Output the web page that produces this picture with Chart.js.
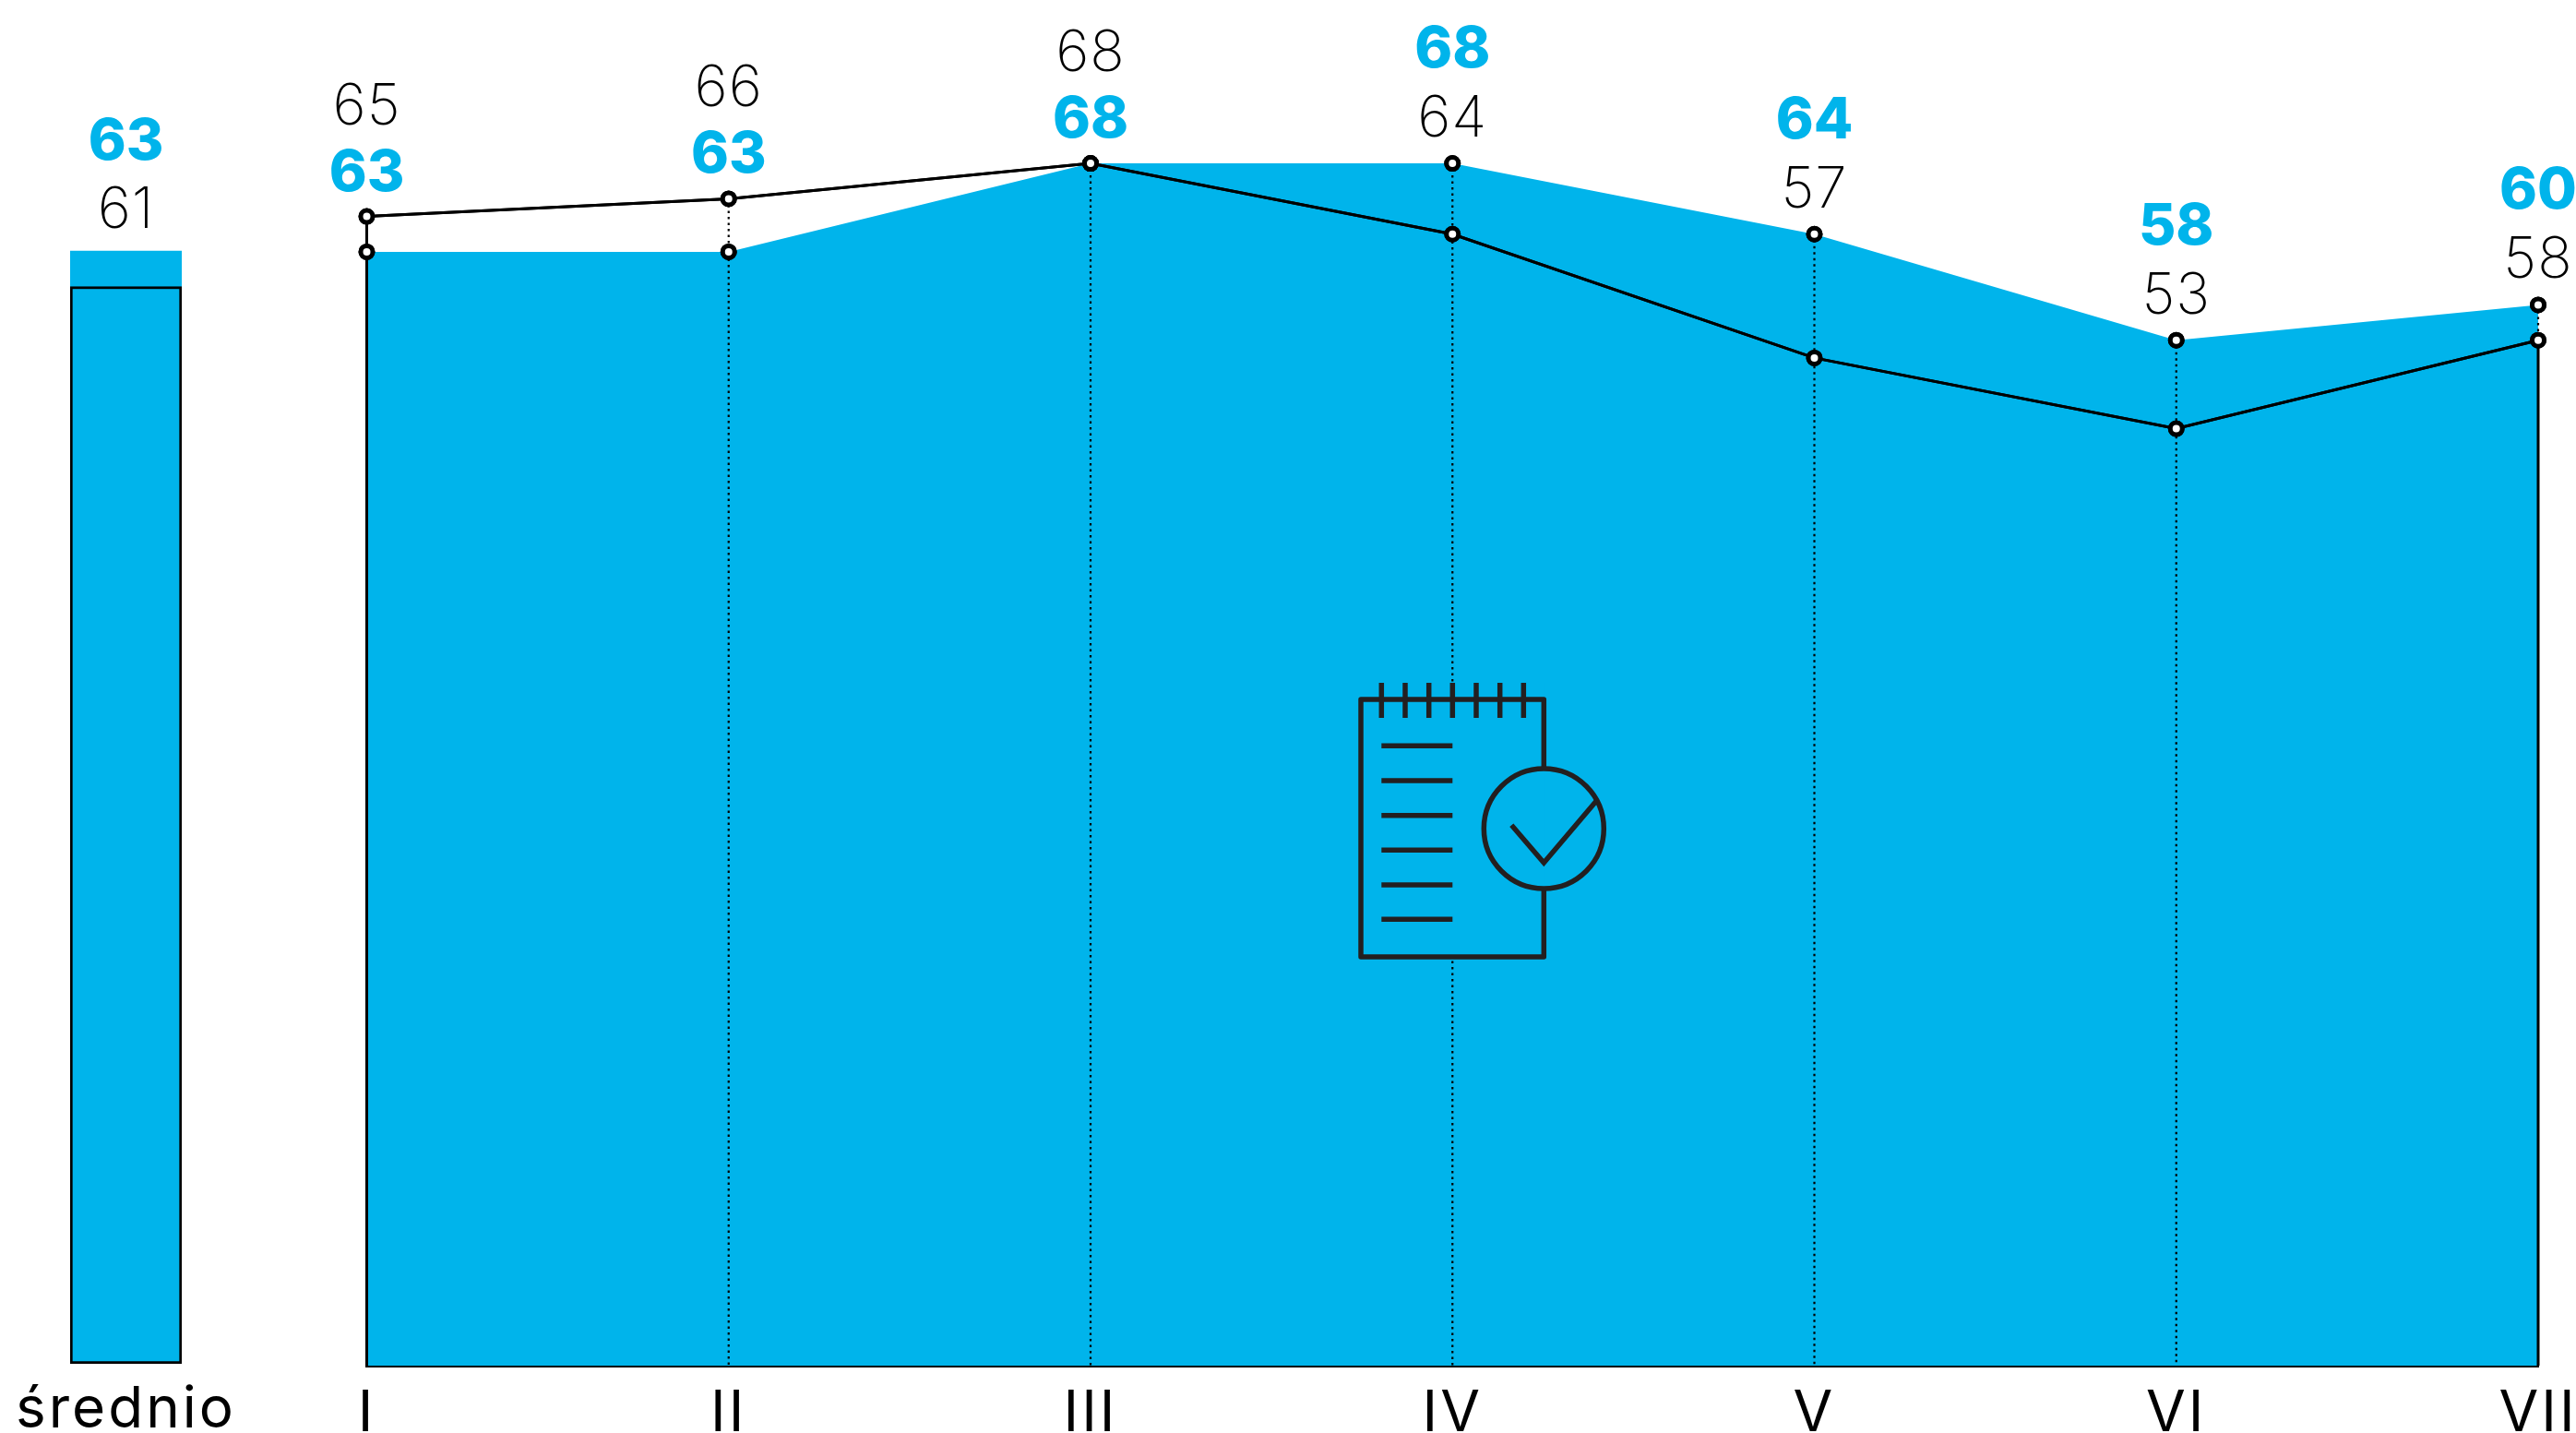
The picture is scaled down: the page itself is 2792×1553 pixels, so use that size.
<!DOCTYPE html>
<html><head><meta charset="utf-8">
<style>html,body{margin:0;padding:0;background:#fff;width:2792px;height:1553px;overflow:hidden}
canvas{position:absolute;left:0;top:0}</style>
<script src="https://cdn.jsdelivr.net/npm/chart.js@4"></script>
</head><body>
<canvas id="avg" width="2792" height="1553"></canvas>
<canvas id="main" width="2792" height="1553"></canvas>
<script>
const avgCategories = ['średnio'];
const avgBlue = [63];
const avgBlack = [61];
const categories = ['I','II','III','IV','V','VI','VII'];
const blueValues = [63,63,68,68,64,58,60];
const blackValues = [65,66,68,64,57,53,58];

const BLUE = '#00B4EB', BLACK = '#000';
const FONT = 'Inter, "Noto Sans", sans-serif';
const lightFont = '200 62px ' + FONT, boldFont = '800 62px ' + FONT;
Chart.defaults.font.family = FONT;

function label(ctx, text, x, y, blue){
  ctx.save();
  ctx.letterSpacing = blue ? '0px' : '1px';
  ctx.font = blue ? boldFont : lightFont;
  ctx.fillStyle = blue ? BLUE : BLACK;
  ctx.textAlign = 'center'; ctx.textBaseline = 'alphabetic';
  ctx.fillText(String(text), x, y);
  ctx.restore();
}
const tickSpacing = {id:'tickSpacing', beforeDraw(c){ c.ctx.letterSpacing = '3px'; }};

const avgLabels = {
  id:'avgLabels',
  afterDatasetsDraw(c){
    const el = c.getDatasetMeta(0).data[0];
    label(c.ctx, avgBlue[0], el.x, el.y - 99, true);
    label(c.ctx, avgBlack[0], el.x, el.y - 25, false);
  }
};

new Chart(document.getElementById('avg'), {
  type:'bar',
  data:{labels:avgCategories, datasets:[
    {data:avgBlue, backgroundColor:BLUE, borderWidth:0, order:2},
    {data:avgBlack, backgroundColor:BLUE, borderColor:BLACK, borderWidth:3, borderSkipped:false, order:1}
  ]},
  options:{
    responsive:false, animation:false, devicePixelRatio:1,
    layout:{autoPadding:false, padding:{left:76,right:2595,top:42.5,bottom:0}},
    plugins:{legend:{display:false},tooltip:{enabled:false}},
    datasets:{bar:{grouped:false,barPercentage:1,categoryPercentage:1}},
    scales:{
      x:{grid:{display:false},border:{display:false},
         afterFit(s){s.height=75;s.paddingLeft=0;s.paddingRight=0},
         ticks:{color:BLACK,maxRotation:0,autoSkip:false,padding:5,font:{size:62,weight:'370'}}},
      y:{display:false,min:0,max:75}
    }
  },
  plugins:[tickSpacing,avgLabels]
});

const overlay = {
  id:'overlay',
  afterDatasetsDraw(c){
    const ctx = c.ctx, bm = c.getDatasetMeta(0).data, km = c.getDatasetMeta(1).data;
    const bottom = c.chartArea.bottom, last = categories.length - 1;
    ctx.save();
    ctx.strokeStyle = BLACK;
    categories.forEach((_, i) => {
      const x = bm[i].x;
      const top = Math.min(bm[i].y, km[i].y), low = Math.max(bm[i].y, km[i].y);
      if (i === 0) { ctx.setLineDash([]); ctx.lineWidth = 3; line(ctx,x,top,x,bottom); }
      else if (i === last) {
        ctx.setLineDash([2.5,4]); ctx.lineWidth = 2.2; line(ctx,x,top,x,low);
        ctx.setLineDash([]); ctx.lineWidth = 3; line(ctx,x,low,x,bottom);
      } else { ctx.setLineDash([2.5,4]); ctx.lineWidth = 2.2; line(ctx,x,top,x,bottom); }
    });
    ctx.restore();
    drawIcon(ctx);
    // the black line and all rings sit on top of the drop lines and the icon
    c.getDatasetMeta(1).dataset.draw(ctx);
    bm.forEach(p => p.draw(ctx)); km.forEach(p => p.draw(ctx));
    categories.forEach((_, i) => {
      const x = bm[i].x, topY = Math.min(bm[i].y, km[i].y);
      if (blackValues[i] >= blueValues[i]) {
        label(ctx, blueValues[i], x, topY - 28, true);
        label(ctx, blackValues[i], x, topY - 100, false);
      } else {
        label(ctx, blackValues[i], x, topY - 29, false);
        label(ctx, blueValues[i], x, topY - 104, true);
      }
    });
  }
};
function line(ctx,a,b,c,d){ctx.beginPath();ctx.moveTo(a,b);ctx.lineTo(c,d);ctx.stroke();}
function drawIcon(ctx){
  ctx.save();
  ctx.fillStyle = BLUE;
  ctx.fillRect(1475,740,198.3,297);
  ctx.strokeStyle='#231F20'; ctx.lineWidth=5.5; ctx.lineJoin='round';
  ctx.beginPath();
  ctx.moveTo(1673.3,833); ctx.lineTo(1673.3,758); ctx.lineTo(1475,758); ctx.lineTo(1475,1037); ctx.lineTo(1673.3,1037); ctx.lineTo(1673.3,963);
  ctx.stroke();
  [97.3,123,148.7,174.3,200,225.7,251.3].forEach(d=>line(ctx,1400+d,740,1400+d,778));
  [808.3,846,883.7,921.3,959,996.3].forEach(y=>line(ctx,1497.3,y,1574.3,y));
  ctx.beginPath(); ctx.arc(1673.3,898,65,0,Math.PI*2); ctx.stroke();
  ctx.lineJoin='miter';
  ctx.beginPath(); ctx.moveTo(1638.3,894.3); ctx.lineTo(1673.3,935); ctx.lineTo(1730,868.3); ctx.stroke();
  ctx.restore();
}

const pointStyle = {pointRadius:6.5,pointBorderWidth:5,pointBackgroundColor:'#fff',pointBorderColor:BLACK};
new Chart(document.getElementById('main'), {
  type:'line',
  data:{labels:categories, datasets:[
    {data:blueValues, borderWidth:0, borderColor:'transparent', backgroundColor:BLUE, fill:'origin', tension:0, clip:false, order:2, ...pointStyle},
    {data:blackValues, borderWidth:3, borderColor:BLACK, fill:false, tension:0, clip:false, order:1, ...pointStyle}
  ]},
  options:{
    responsive:false, animation:false, devicePixelRatio:1,
    layout:{autoPadding:false, padding:{left:397.5,right:41,top:43,bottom:0}},
    plugins:{legend:{display:false},tooltip:{enabled:false}},
    scales:{
      x:{offset:false,grid:{display:false},border:{display:true,color:BLACK,width:3},
         afterFit(s){s.height=73;s.paddingLeft=0;s.paddingRight=0},
         ticks:{color:BLACK,maxRotation:0,autoSkip:false,padding:7,font:{size:62,weight:'370'}}},
      y:{display:false,min:0,max:75}
    }
  },
  plugins:[tickSpacing,overlay]
});
</script>
</body></html>
